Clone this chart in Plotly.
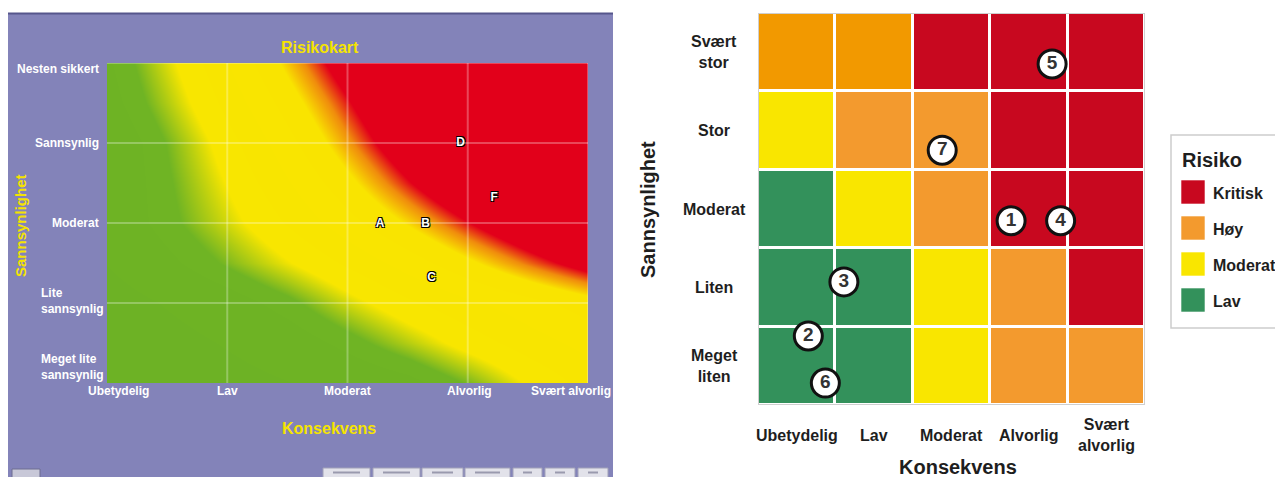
import plotly.graph_objects as go

W, H = 1275, 477


def fx(px):
    return px / W


def fy(py):
    return 1 - py / H


FONT = "Liberation Sans"

# ---------------- Risikokart (left) ----------------
kart_konsekvens = ["Ubetydelig", "Lav", "Moderat", "Alvorlig", "Svært alvorlig"]
kart_sannsynlighet = ["Meget lite<br>sannsynlig", "Lite<br>sannsynlig", "Moderat",
                      "Sannsynlig", "Nesten sikkert"]

# risk score sampled on a half-step grid (consequence 1..5 x probability 1..5)
kart_x = [1.0, 1.5, 2.0, 2.5, 3.0, 3.5, 4.0, 4.5, 5.0]
kart_y = [1.0, 1.5, 2.0, 2.5, 3.0, 3.5, 4.0, 4.5, 5.0]
kart_score = [
    [0.18, 0.25, 0.33, 0.42, 0.52, 0.64, 0.88, 1.16, 1.38],
    [0.24, 0.33, 0.45, 0.58, 0.78, 1.00, 1.22, 1.40, 1.55],
    [0.30, 0.45, 0.60, 0.80, 1.06, 1.28, 1.45, 1.60, 1.75],
    [0.44, 0.66, 0.89, 1.12, 1.35, 1.57, 1.80, 2.03, 2.25],
    [0.53, 0.80, 1.06, 1.33, 1.60, 1.86, 2.13, 2.39, 2.66],
    [0.51, 0.83, 1.15, 1.47, 1.79, 2.12, 2.44, 2.76, 3.08],
    [0.50, 0.87, 1.24, 1.60, 1.97, 2.34, 2.71, 3.07, 3.44],
    [0.62, 0.99, 1.37, 1.74, 2.12, 2.50, 2.87, 3.25, 3.62],
    [0.68, 1.08, 1.48, 1.89, 2.29, 2.69, 3.10, 3.50, 3.90],
]

hendelser = ["A", "B", "C", "D", "F"]
hendelse_x = [3.27, 3.65, 3.70, 3.94, 4.22]
hendelse_y = [2.99, 2.99, 2.31, 4.00, 3.31]

# ---------------- Risikomatrise (right) ----------------
matrise_konsekvens = ["Ubetydelig", "Lav", "Moderat", "Alvorlig", "Svært<br>alvorlig"]
matrise_sannsynlighet = ["Meget<br>liten", "Liten", "Moderat", "Stor", "Svært<br>stor"]

# 0 = Lav, 1 = Moderat, 2 = Høy, 3 = Kritisk, 4 = Høy (deeper orange in the top row)
risiko_nivaa = [
    [0, 0, 1, 2, 2],
    [0, 0, 1, 2, 3],
    [0, 1, 2, 3, 3],
    [1, 2, 2, 3, 3],
    [4, 4, 3, 3, 3],
]
nivaa_farge = ["#33915B", "#F9E600", "#F39A2E", "#C8081F", "#F29900"]

legende_navn = ["Kritisk", "Høy", "Moderat", "Lav"]
legende_farge = ["#C8081F", "#F39A2E", "#F9E600", "#33915B"]

risiko_id = ["1", "2", "3", "4", "5", "6", "7"]
risiko_x = [2.77, 0.15, 0.61, 3.41, 3.30, 0.37, 1.88]
risiko_y = [1.85, 0.38, 1.07, 1.85, 3.85, -0.22, 2.75]

fig = go.Figure()

# left: continuous risk map
kart_colorscale = [
    [0.0, "#6CB125"],
    [0.215, "#6FB424"],
    [0.285, "#F8E600"],
    [0.46, "#F9E400"],
    [0.50, "#F08C0C"],
    [0.535, "#E2001A"],
    [1.0, "#E2001A"],
]
fig.add_trace(go.Heatmap(
    x=kart_x, y=kart_y, z=kart_score, zmin=0, zmax=4,
    colorscale=kart_colorscale, zsmooth="best", showscale=False,
    hoverinfo="skip", xaxis="x", yaxis="y",
))
fig.add_trace(go.Scatter(
    x=hendelse_x, y=hendelse_y, text=hendelser, mode="text",
    textfont=dict(family=FONT, size=12, color="white", weight="bold",
                  shadow="-1px -1px 0 #000, 1px -1px 0 #000, -1px 1px 0 #000, 1px 1px 0 #000"),
    hoverinfo="skip", showlegend=False, xaxis="x", yaxis="y",
))

# right: discrete risk matrix
n_lvl = len(nivaa_farge)
matrise_colorscale = []
for i, c in enumerate(nivaa_farge):
    matrise_colorscale.append([i / n_lvl, c])
    matrise_colorscale.append([(i + 1) / n_lvl, c])
fig.add_trace(go.Heatmap(
    x=list(range(len(matrise_konsekvens))), y=list(range(len(matrise_sannsynlighet))),
    z=risiko_nivaa, zmin=-0.5, zmax=n_lvl - 0.5, colorscale=matrise_colorscale,
    xgap=3, ygap=3, showscale=False, hoverinfo="skip", xaxis="x2", yaxis="y2",
))
fig.add_trace(go.Scatter(
    x=risiko_x, y=risiko_y, text=risiko_id, mode="markers+text",
    textposition="middle center",
    marker=dict(size=28, color="white", line=dict(color="#111111", width=3)),
    textfont=dict(family=FONT, size=19, color="#333333", weight="bold"),
    hoverinfo="skip", showlegend=False, cliponaxis=False, xaxis="x2", yaxis="y2",
))

shapes = []
annotations = []


def note(text, x, y, font, xref="paper", yref="paper", xanchor="center", **kw):
    annotations.append(dict(text=text, x=x, y=y, xref=xref, yref=yref, font=font,
                            xanchor=xanchor, yanchor="middle", showarrow=False, **kw))


# purple panel behind the risk map
shapes.append(dict(type="rect", xref="paper", yref="paper", x0=fx(8), x1=fx(613),
                   y0=fy(480), y1=fy(13), fillcolor="#8383B9", line_width=0, layer="below"))
shapes.append(dict(type="line", xref="paper", yref="paper", x0=fx(8), x1=fx(613),
                   y0=fy(13.5), y1=fy(13.5), line=dict(color="#56568C", width=2), layer="below"))
# toolbar at the bottom of the panel
for bx0, bx1 in [(323, 370), (373, 420), (422, 463), (465, 510), (513, 542), (545, 575), (578, 608)]:
    shapes.append(dict(type="rect", xref="paper", yref="paper", x0=fx(bx0), x1=fx(bx1),
                       y0=fy(478), y1=fy(468), fillcolor="#E2E2EA",
                       line=dict(color="#A0A0B8", width=1), layer="below"))
    shapes.append(dict(type="line", xref="paper", yref="paper", x0=fx(bx0 + 10), x1=fx(bx1 - 10),
                       y0=fy(472.5), y1=fy(472.5), line=dict(color="#9A9AAE", width=2),
                       layer="below"))
shapes.append(dict(type="rect", xref="paper", yref="paper", x0=fx(12), x1=fx(40),
                   y0=fy(478), y1=fy(469), fillcolor="#C8C8D8",
                   line=dict(color="#6C6C90", width=1), layer="below"))

# faint grid over the risk map
for k in range(2, 6):
    shapes.append(dict(type="line", xref="x", yref="y", x0=k, x1=k, y0=1, y1=5,
                       line=dict(color="rgba(255,255,255,0.28)", width=2), layer="above"))
    shapes.append(dict(type="line", xref="x", yref="y", x0=1, x1=5, y0=k, y1=k,
                       line=dict(color="rgba(255,255,255,0.28)", width=2), layer="above"))

# left texts
txt_white = dict(family=FONT, size=12, color="white", weight="bold")
txt_yellow = dict(family=FONT, size=16, color="#F5E400", weight="bold")
note("Risikokart", fx(320), fy(48), txt_yellow)
note("Konsekvens", fx(329), fy(428), txt_yellow)
note("Sannsynlighet", fx(20), fy(226),
     dict(family=FONT, size=15, color="#F5E400", weight="bold"), textangle=-90)
x_shift = [11, 0, 0, 2, -17]
for i, lab in enumerate(kart_konsekvens):
    note(lab, i + 1, fy(391), txt_white, xref="x", xshift=x_shift[i])
y_shift = [16, 2, 0, 0, -6]
for i, lab in enumerate(kart_sannsynlighet):
    if "<br>" in lab:
        note(lab, fx(39), i + 1, txt_white, yref="y", xanchor="left", align="left",
             yshift=y_shift[i])
    else:
        note(lab, fx(101), i + 1, txt_white, yref="y", xanchor="right", yshift=y_shift[i])

# right texts
tick_font = dict(family=FONT, size=16, color="#1E1E1E", weight="bold")
title_font = dict(family=FONT, size=20, color="#1E1E1E", weight="bold")
for i, lab in enumerate(matrise_konsekvens):
    note(lab, i, fy(435), tick_font, xref="x2")
for i, lab in enumerate(matrise_sannsynlighet):
    note(lab, fx(714), i, tick_font, yref="y2")
note("Konsekvens", fx(958), fy(467), title_font)
note("Sannsynlighet", fx(648), fy(209), title_font, textangle=-90)

# matrix outline
shapes.append(dict(type="rect", xref="x2", yref="y2", x0=-0.5, x1=4.5, y0=-0.5, y1=4.5,
                   line=dict(color="#CFCFCF", width=2), layer="above"))

# legend box
shapes.append(dict(type="rect", xref="paper", yref="paper", x0=fx(1171), x1=fx(1300),
                   y0=fy(328), y1=fy(135), fillcolor="white",
                   line=dict(color="#CDCDCD", width=1.5)))
note("Risiko", fx(1180), fy(160), title_font, xanchor="left")
for i, (navn, farge) in enumerate(zip(legende_navn, legende_farge)):
    cy = 192 + 36 * i
    shapes.append(dict(type="rect", xref="paper", yref="paper", x0=fx(1181), x1=fx(1205),
                       y0=fy(cy + 12), y1=fy(cy - 12), fillcolor=farge,
                       line=dict(color="rgba(255,255,255,0.6)", width=1)))
    note(navn, fx(1211), fy(cy + 1), tick_font, xanchor="left")

axis_off = dict(showgrid=False, zeroline=False, showticklabels=False, ticks="",
                showline=False, fixedrange=True)
fig.update_layout(
    width=W, height=H,
    margin=dict(l=0, r=0, t=0, b=0),
    paper_bgcolor="white",
    plot_bgcolor="rgba(0,0,0,0)",
    showlegend=False,
    xaxis=dict(domain=[fx(107), fx(588)], range=[1, 5], anchor="y", **axis_off),
    yaxis=dict(domain=[fy(383), fy(63)], range=[1, 5], anchor="x", **axis_off),
    xaxis2=dict(domain=[fx(758), fx(1145)], range=[-0.5, 4.5], anchor="y2", **axis_off),
    yaxis2=dict(domain=[fy(405), fy(13)], range=[-0.5, 4.5], anchor="x2", **axis_off),
    shapes=shapes,
    annotations=annotations,
)

fig.write_html("out.html")
